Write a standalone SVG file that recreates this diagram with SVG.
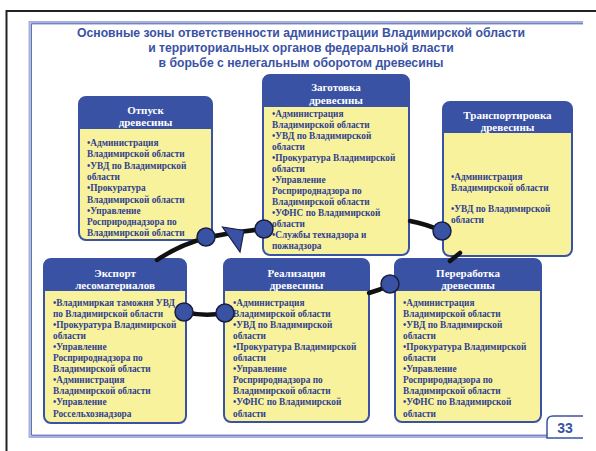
<svg xmlns="http://www.w3.org/2000/svg" width="596" height="451" viewBox="0 0 596 451">
<style>
.title{font-family:"Liberation Sans",Arial,sans-serif;font-weight:bold;font-size:12.2px;fill:#3a52a4;text-anchor:middle}
.box{fill:#f9f29c;stroke:#3a52a4;stroke-width:2}
.hdr{fill:#3a52a4}
.ht{font-family:"Liberation Serif","Times New Roman",serif;font-weight:bold;font-size:11px;fill:#ffffff;text-anchor:middle}
.bt{font-family:"Liberation Serif","Times New Roman",serif;font-weight:bold;font-size:9.3px;fill:#2f3f8f}
.ln{fill:none;stroke:#111;stroke-width:4.5;stroke-linecap:round}
.dot{fill:#3a52a4;stroke:#1a1f40;stroke-width:1.5}
</style>
<rect width="596" height="451" fill="#ffffff"/>
<path d="M6.5,451 V11 H596" fill="none" stroke="#222" stroke-width="2"/>
<path d="M583,22 H29.5 V437 H583" fill="none" stroke="#a9b0dc" stroke-width="2"/>
<path d="M583,23.8 H31.3 V435.2 H583" fill="none" stroke="#3a52a4" stroke-width="1"/>
<g id="title">
<text class="title" x="301" y="37">Основные зоны ответственности администрации Владимирской области</text>
<text class="title" x="301" y="52">и территориальных органов федеральной власти</text>
<text class="title" x="301" y="67">в борьбе с нелегальным оборотом древесины</text>
</g>
<g id="page-number">
<path d="M583,416 H553 Q547,416 547,422 V438 H583" fill="#fff" stroke="#3a52a4" stroke-width="1.5"/>
<text x="565" y="433" font-family="Liberation Sans,Arial,sans-serif" font-weight="bold" font-size="14" fill="#3a52a4" text-anchor="middle">33</text>
</g>
<g id="node-otpusk">
<rect class="box" x="79" y="97" width="133" height="143" rx="7"/>
<path class="hdr" d="M79,129 V104 Q79,97 86,97 H205 Q212,97 212,104 V129 Z"/>
<text class="ht" x="145.5" y="113.5">Отпуск</text>
<text class="ht" x="145.5" y="126">древесины</text>
<text class="bt" x="87" y="146">•Администрация</text>
<text class="bt" x="87" y="157.3">Владимирской области</text>
<text class="bt" x="87" y="168.6">•УВД по Владимирской</text>
<text class="bt" x="87" y="179.9">области</text>
<text class="bt" x="87" y="191.2">•Прокуратура</text>
<text class="bt" x="87" y="202.5">Владимирской области</text>
<text class="bt" x="87" y="213.8">•Управление</text>
<text class="bt" x="87" y="225.1">Росприроднадзора по</text>
<text class="bt" x="87" y="236.4">Владимирской области</text>
</g>
<g id="node-zagotovka">
<rect class="box" x="263" y="75" width="146" height="180" rx="7"/>
<path class="hdr" d="M263,107 V82 Q263,75 270,75 H402 Q409,75 409,82 V107 Z"/>
<text class="ht" x="336" y="91">Заготовка</text>
<text class="ht" x="336" y="104">древесины</text>
<text class="bt" x="272" y="116.5">•Администрация</text>
<text class="bt" x="272" y="127.5">Владимирской области</text>
<text class="bt" x="272" y="138.6">•УВД по Владимирской</text>
<text class="bt" x="272" y="149.6">области</text>
<text class="bt" x="272" y="160.7">•Прокуратура Владимирской</text>
<text class="bt" x="272" y="171.7">области</text>
<text class="bt" x="272" y="182.8">•Управление</text>
<text class="bt" x="272" y="193.8">Росприроднадзора по</text>
<text class="bt" x="272" y="204.9">Владимирской области</text>
<text class="bt" x="272" y="215.9">•УФНС по Владимирской</text>
<text class="bt" x="272" y="227">области</text>
<text class="bt" x="272" y="238">•Службы технадзора и</text>
<text class="bt" x="272" y="249">пожнадзора</text>
</g>
<g id="node-transport">
<rect class="box" x="443" y="102" width="129" height="154" rx="7"/>
<path class="hdr" d="M443,133 V109 Q443,102 450,102 H565 Q572,102 572,109 V133 Z"/>
<text class="ht" x="507.5" y="119">Транспортировка</text>
<text class="ht" x="507.5" y="131">древесины</text>
<text class="bt" x="451" y="180">•Администрация</text>
<text class="bt" x="451" y="191">Владимирской области</text>
<text class="bt" x="451" y="212">•УВД по Владимирской</text>
<text class="bt" x="451" y="223">области</text>
</g>
<g id="node-export">
<rect class="box" x="44" y="259" width="142" height="164" rx="7"/>
<path class="hdr" d="M44,291 V266 Q44,259 51,259 H179 Q186,259 186,266 V291 Z"/>
<text class="ht" x="115" y="277">Экспорт</text>
<text class="ht" x="115" y="289">лесоматериалов</text>
<text class="bt" x="53" y="305.5">•Владимиркая таможня УВД</text>
<text class="bt" x="53" y="316.6">по Владимирской области</text>
<text class="bt" x="53" y="327.7">•Прокуратура Владимирской</text>
<text class="bt" x="53" y="338.8">области</text>
<text class="bt" x="53" y="349.9">•Управление</text>
<text class="bt" x="53" y="361">Росприроднадзора по</text>
<text class="bt" x="53" y="372.1">Владимирской области</text>
<text class="bt" x="53" y="383.2">•Администрация</text>
<text class="bt" x="53" y="394.3">Владимирской области</text>
<text class="bt" x="53" y="405.4">•Управление</text>
<text class="bt" x="53" y="416.5">Россельхознадзора</text>
</g>
<g id="node-realizaciya">
<rect class="box" x="224" y="259" width="145" height="163" rx="7"/>
<path class="hdr" d="M224,291 V266 Q224,259 231,259 H362 Q369,259 369,266 V291 Z"/>
<text class="ht" x="296.5" y="277">Реализация</text>
<text class="ht" x="296.5" y="289">древесины</text>
<text class="bt" x="233" y="305.5">•Администрация</text>
<text class="bt" x="233" y="316.6">Владимирской области</text>
<text class="bt" x="233" y="327.7">•УВД по Владимирской</text>
<text class="bt" x="233" y="338.8">области</text>
<text class="bt" x="233" y="349.9">•Прокуратура Владимирской</text>
<text class="bt" x="233" y="361">области</text>
<text class="bt" x="233" y="372.1">•Управление</text>
<text class="bt" x="233" y="383.2">Росприроднадзора по</text>
<text class="bt" x="233" y="394.3">Владимирской области</text>
<text class="bt" x="233" y="405.4">•УФНС по Владимирской</text>
<text class="bt" x="233" y="416.5">области</text>
</g>
<g id="node-pererabotka">
<rect class="box" x="395" y="259" width="146" height="163" rx="7"/>
<path class="hdr" d="M395,291 V266 Q395,259 402,259 H534 Q541,259 541,266 V291 Z"/>
<text class="ht" x="468" y="277">Переработка</text>
<text class="ht" x="468" y="289">древесины</text>
<text class="bt" x="403" y="305.5">•Администрация</text>
<text class="bt" x="403" y="316.6">Владимирской области</text>
<text class="bt" x="403" y="327.7">•УВД по Владимирской</text>
<text class="bt" x="403" y="338.8">области</text>
<text class="bt" x="403" y="349.9">•Прокуратура Владимирской</text>
<text class="bt" x="403" y="361">области</text>
<text class="bt" x="403" y="372.1">•Управление</text>
<text class="bt" x="403" y="383.2">Росприроднадзора по</text>
<text class="bt" x="403" y="394.3">Владимирской области</text>
<text class="bt" x="403" y="405.4">•УФНС по Владимирской</text>
<text class="bt" x="403" y="416.5">области</text>
</g>
<g id="connectors">
<path class="ln" d="M157,260 C175,248 190,242 206,238 S245,231 264,229"/>
<path class="ln" d="M410,221 Q426,224 442,231"/>
<path class="ln" d="M450,261 L460,253"/>
<path class="ln" d="M369,293 Q380,290 390,285"/>
<path class="ln" d="M184,312 Q205,317 225,313"/>
<polygon points="222.5,227 244,230.5 240,252" fill="#3a52a4" stroke="#1a1f40" stroke-width="1.2"/>
<circle class="dot" cx="206" cy="237" r="9"/>
<circle class="dot" cx="264" cy="229" r="9"/>
<circle class="dot" cx="442" cy="231" r="9"/>
<circle class="dot" cx="390" cy="284" r="9"/>
<circle class="dot" cx="184" cy="312" r="9"/>
<circle class="dot" cx="225" cy="313" r="9"/>
</g>
</svg>
